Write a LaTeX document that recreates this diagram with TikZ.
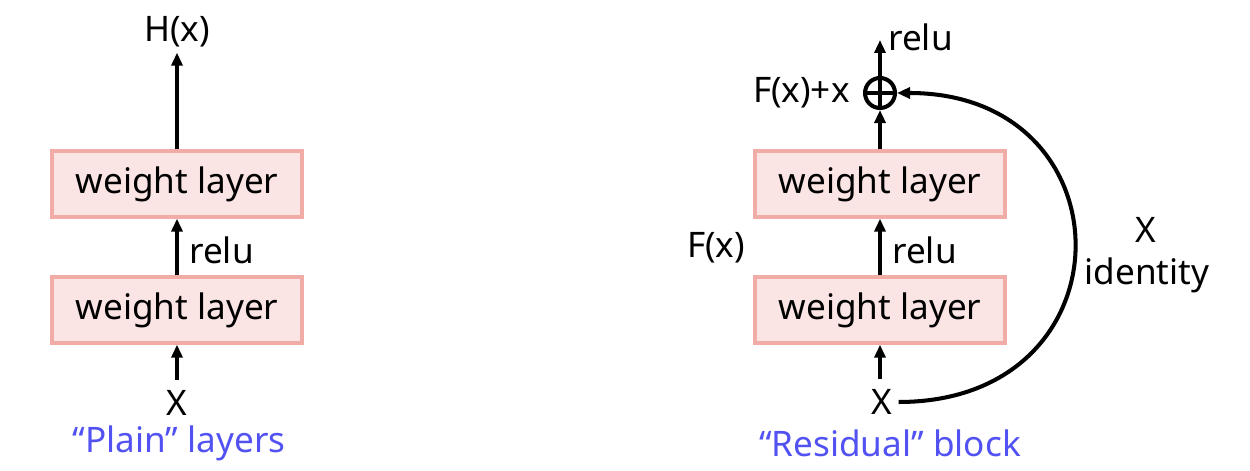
\documentclass[tikz,border=0pt]{standalone}
\usepackage{fontspec}
\setmainfont{Noto Sans}
\usetikzlibrary{arrows.meta,positioning}
\definecolor{layerpink}{RGB}{251,228,228}
\definecolor{layeredge}{RGB}{242,172,167}
\definecolor{captionblue}{RGB}{82,82,242}
\tikzset{
  flow/.style={-{Triangle[length=2.6mm,width=2.2mm]},line width=2.3pt},
  layer/.style={draw=layeredge,line width=1.9pt,fill=layerpink,minimum width=50mm,
                minimum height=13.2mm,inner sep=0pt,font=\fontsize{20}{22}\selectfont},
  lab/.style={font=\fontsize{20}{22}\selectfont,inner sep=0pt},
  caption/.style={lab,text=captionblue},
  adder/.style={circle,draw,line width=2.3pt,minimum size=6mm,inner sep=0pt,
                path picture={\draw[line width=2.3pt]
                  (path picture bounding box.north) -- (path picture bounding box.south)
                  (path picture bounding box.west) -- (path picture bounding box.east);}},
}

\begin{document}
\begin{tikzpicture}[x=1cm,y=1cm]
  \path[use as bounding box] (0,0) rectangle (25,9.42);

  % plain layers
  \node[lab] (hx) at (3.54,8.78) {H(x)};
  \node[layer] (plaintop) at (3.54,5.74) {weight layer};
  \node[layer] (plainbot) at (3.54,3.22) {weight layer};
  \node[lab] (xl) at (3.54,1.36) {X};
  \node[lab,anchor=west] (relul) at (3.78,4.42) {relu};
  \node[caption] (plaincap) at (3.58,0.56) {“Plain” layers};

  \draw[flow] ([yshift=2mm]xl.north) -- (plainbot.south);
  \draw[flow] (plainbot.north) -- (plaintop.south);
  \draw[flow] (plaintop.north) -- ([yshift=-1mm]hx.south);

  % residual block
  \node[adder] (sum) at (17.6,7.56) {};
  \node[layer] (restop) at (17.6,5.74) {weight layer};
  \node[layer] (resbot) at (17.6,3.22) {weight layer};
  \node[lab] (xr) at (17.64,1.38) {X};
  \node[lab,anchor=east] (fxx) at (17.0,7.56) {F(x)+x};
  \node[lab] (fx) at (14.32,4.46) {F(x)};
  \node[lab,anchor=west] (relur) at (17.84,4.42) {relu};
  \node[lab,anchor=west] (relutop) at (17.76,8.68) {relu};
  \coordinate (out) at (17.6,8.62);
  \node[lab] (idx) at (22.92,4.82) {X};
  \node[lab] (ident) at (22.94,3.92) {identity};
  \node[caption] (rescap) at (17.8,0.56) {“Residual” block};

  \draw[flow] ([yshift=2mm]xr.north -| resbot.south) -- (resbot.south);
  \draw[flow] (resbot.north) -- (restop.south);
  \draw[flow] (restop.north) -- (sum.south);
  \draw[flow] (sum.north) -- (out);
  \draw[flow] ([xshift=1.2mm]xr.east) .. controls +(4.7,0) and +(4.7,0) .. (sum.east);
\end{tikzpicture}
\end{document}
